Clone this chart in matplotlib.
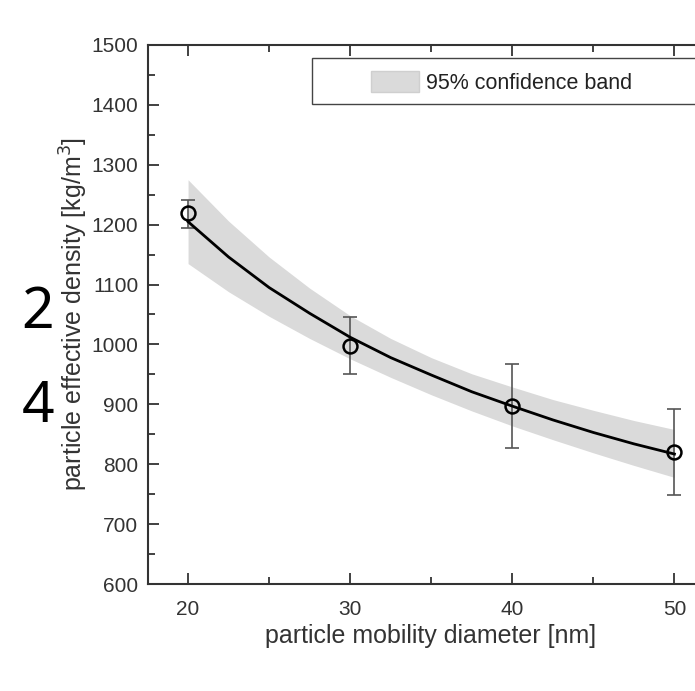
import numpy as np
import matplotlib.pyplot as plt
from matplotlib.ticker import MultipleLocator
from matplotlib.patches import Patch, Rectangle

plt.rcParams['font.family'] = ['Liberation Sans', 'DejaVu Sans']

# measured points
diam = [20, 30, 40, 50]
density = [1220, 998, 898, 820]
err_hi = [1241, 1045, 968, 892]
err_lo = [1195, 950, 827, 748]

# fitted curve and 95% band
fit_x = [20, 22.5, 25, 27.5, 30, 32.5, 35, 37.5, 40, 42.5, 45, 47.5, 50]
fit_y = [1205, 1146, 1095, 1052, 1012, 978, 949, 921, 897, 874, 853, 834, 817]
band_hi = [1275, 1206, 1146, 1094, 1048, 1010, 978, 951, 929, 908, 890, 873, 858]
band_lo = [1135, 1088, 1047, 1010, 976, 945, 916, 889, 864, 841, 819, 798, 778]

W, H = 695, 691
fig = plt.figure(figsize=(W / 100, H / 100), dpi=100)
# axes runs past the right edge of the picture (right spine cropped off)
ax = fig.add_axes([148 / W, 1 - 584 / H, 566 / W, 539 / H])

ax.fill_between(fit_x, band_lo, band_hi, color='#dadada', lw=0, zorder=1)
ax.plot(fit_x, fit_y, color='black', lw=2, zorder=3)

yerr = [np.array(density) - np.array(err_lo), np.array(err_hi) - np.array(density)]
ax.errorbar(diam, density, yerr=yerr, fmt='none', ecolor='#555555',
            elinewidth=1.2, capsize=5, capthick=1.2, zorder=2)
ax.plot(diam, density, 'o', ms=10, mfc='none', mec='black', mew=1.8, zorder=4)

ax.set_xlim(17.53, 52.44)
ax.set_ylim(600, 1500)
ax.xaxis.set_major_locator(MultipleLocator(10))
ax.xaxis.set_minor_locator(MultipleLocator(5))
ax.yaxis.set_major_locator(MultipleLocator(100))
ax.yaxis.set_minor_locator(MultipleLocator(50))
ax.tick_params(which='both', direction='in', top=True, right=True,
               labelsize=15, colors='#333333', width=1.3)
ax.tick_params(which='major', length=8)
ax.tick_params(which='minor', length=5)
ax.tick_params(axis='x', pad=11.5)
ax.tick_params(axis='y', pad=7)
for s in ['left', 'bottom', 'top', 'right']:
    ax.spines[s].set_linewidth(1.5)
    ax.spines[s].set_color('#333333')

ax.set_xlabel('particle mobility diameter [nm]', fontsize=18, color='#333333')
ax.set_ylabel('particle effective density [kg/m$^3$]', fontsize=18, color='#333333')
ax.xaxis.set_label_coords((431 - 148) / 566, -(624 - 584) / 539)
ax.yaxis.set_label_coords(-(148 - 90) / 566, (584 - 314) / 539)

# legend frame (its right side is cropped off in the picture)
ax.add_patch(Rectangle((312 / W, 1 - 104 / H), 420 / W, 46 / H,
                       transform=fig.transFigure, facecolor='white',
                       edgecolor='#444444', lw=1.0, zorder=5, clip_on=False))
leg = ax.legend(handles=[Patch(facecolor='#dadada', edgecolor='#cfcfcf', label='95% confidence band')],
                loc='center left', bbox_to_anchor=(371 / W, 1 - 82.5 / H),
                bbox_transform=fig.transFigure, fontsize=15.5, frameon=False,
                borderaxespad=0, borderpad=0, handlelength=2.23, handleheight=1.07,
                handletextpad=0.33)
leg.set_zorder(6)
for t in leg.get_texts():
    t.set_color('#222222')

fig.text(38 / W, 1 - 313 / H, '2', fontsize=41, family='Noto Sans', ha='center', va='center')
fig.text(38 / W, 1 - 408 / H, '4', fontsize=41, family='Noto Sans', ha='center', va='center')

fig.savefig('out.png', dpi=100)
